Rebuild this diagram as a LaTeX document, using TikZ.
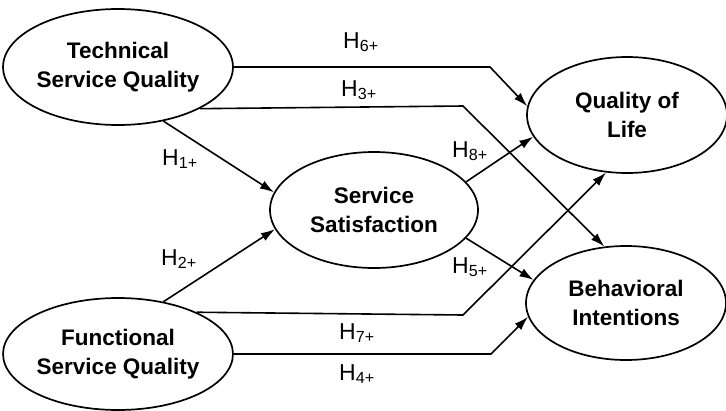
\documentclass[tikz,border=0pt]{standalone}
\usepackage{fontspec}
\setmainfont{Liberation Sans}
\usetikzlibrary{shapes.geometric,arrows.meta}

\begin{document}
\begin{tikzpicture}[x=1pt,y=-1pt,
    construct/.style={draw, ellipse, line width=1.7pt, inner sep=0pt,
        align=center, font=\fontsize{22.5}{29}\selectfont\bfseries},
    link/.style={line width=1.6pt, -{Latex[length=14pt,width=9pt]}},
    hyp/.style={anchor=base west, inner sep=0pt, font=\fontsize{23}{28}\selectfont}]
    \useasboundingbox (0,0) rectangle (726,410);

    \node[construct, minimum width=208pt, minimum height=116pt] (tsq) at (118,67) {Technical\\Service Quality};
    \node[construct, minimum width=208pt, minimum height=112pt] (fsq) at (118,354) {Functional\\Service Quality};
    \node[construct, minimum width=208pt, minimum height=116pt] (sat) at (374,210) {Service\\Satisfaction};
    \node[construct, minimum width=200pt, minimum height=116pt] (qol) at (627,115) {Quality of\\Life};
    \node[construct, minimum width=200pt, minimum height=114pt] (bi) at (626,303) {Behavioral\\Intentions};

    % bends of the long paths
    \coordinate (b6) at (490,67);
    \coordinate (b3) at (463,106);
    \coordinate (b7) at (463,315);
    \coordinate (b4) at (491,354);

    \draw[link] (tsq.-50) -- (sat.170);
    \draw[link] (fsq.49) -- (sat.191);
    \draw[link] (sat.17) -- (qol.193);
    \draw[link] (sat.-17) -- (bi.166);
    \draw[link] (tsq.east) -- (b6) -- (qol.175);
    \draw[link] (tsq.-27) -- (b3) -- (bi.111);
    \draw[link] (fsq.28) -- (b7) -- (qol.250);
    \draw[link] (fsq.east) -- (b4) -- (bi.188);

    \node[hyp] (h6) at (343,48) {H\textsubscript{6+}};
    \node[hyp] (h3) at (341,96) {H\textsubscript{3+}};
    \node[hyp] (h1) at (162,165) {H\textsubscript{1+}};
    \node[hyp] (h2) at (161,265) {H\textsubscript{2+}};
    \node[hyp] (h8) at (452,157) {H\textsubscript{8+}};
    \node[hyp] (h5) at (452,273) {H\textsubscript{5+}};
    \node[hyp] (h7) at (339,339) {H\textsubscript{7+}};
    \node[hyp] (h4) at (339,380) {H\textsubscript{4+}};
\end{tikzpicture}
\end{document}
